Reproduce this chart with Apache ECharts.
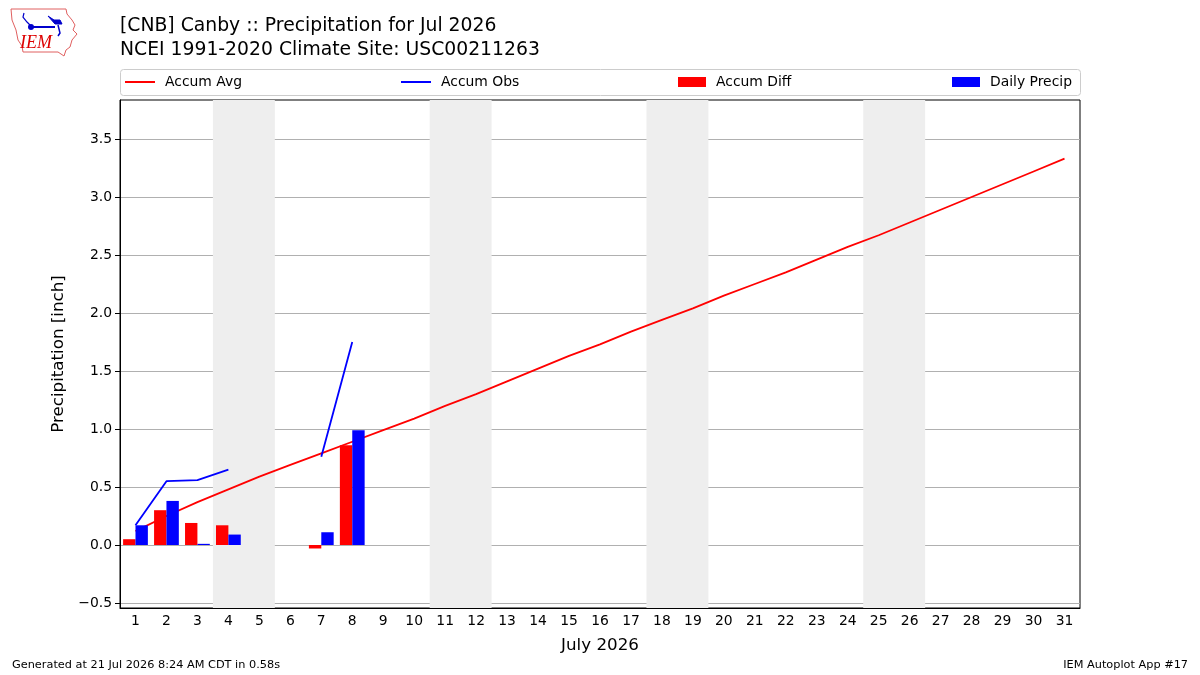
<!DOCTYPE html>
<html>
<head>
<meta charset="utf-8">
<script src="https://cdn.jsdelivr.net/npm/echarts@6/dist/echarts.min.js"></script>
<style>
html,body{margin:0;padding:0;background:#fff;}
#chart{width:1200px;height:675px;}
</style>
</head>
<body>
<div id="chart"></div>
<script>
// ---- data ----
const days = ['1','2','3','4','5','6','7','8','9','10','11','12','13','14','15','16','17','18','19','20','21','22','23','24','25','26','27','28','29','30','31'];
const accumAvg = [0.12,0.25,0.37,0.48,0.59,0.69,0.79,0.89,0.99,1.09,1.20,1.30,1.41,1.52,1.63,1.73,1.84,1.94,2.04,2.15,2.25,2.35,2.46,2.57,2.67,2.78,2.89,3.00,3.11,3.22,3.33];
const accumObs = [0.17,0.55,0.56,0.65,null,null,0.76,1.75];
const accumDiff = [0.05,0.30,0.19,0.17,null,null,-0.03,0.86];
const dailyPrecip = [0.17,0.38,0.01,0.09,null,null,0.11,0.99];
const weekendStarts = [4,11,18,25]; // Sat/Sun pairs shaded
const titleLines = ['[CNB] Canby :: Precipitation for Jul 2026','NCEI 1991-2020 Climate Site: USC00211263'];
const footerLeft = 'Generated at 21 Jul 2026 8:24 AM CDT in 0.58s';
const footerRight = 'IEM Autoplot App #17';

const FONT = 'DejaVu Sans';
const chart = echarts.init(document.getElementById('chart'), null, {renderer:'canvas'});

const shadeAreas = weekendStarts.map(d => [{xAxis: d - 0.5}, {xAxis: d + 1.5}]);
const fmt = v => { const s = (Math.round(v*10)/10).toFixed(1); return s.replace('-', '\u2212'); };

const legendCommon = {
  orient:'horizontal', top: 75, padding: 0,
  textStyle:{fontFamily:FONT, fontSize:13.9, color:'#000', padding:[0,0,0,5]},
  selectedMode:false
};

chart.setOption({
  animation:false,
  backgroundColor:'#fff',
  title:{
    text: titleLines.join('\n'), left:120, top:14, padding:0,
    textStyle:{fontFamily:FONT, fontSize:18.8, fontWeight:'normal', color:'#000', lineHeight:24}
  },
  legend:[
    Object.assign({}, legendCommon, {left:125, data:[{name:'Accum Avg', icon:'rect'}], itemWidth:30, itemHeight:2}),
    Object.assign({}, legendCommon, {left:401, data:[{name:'Accum Obs', icon:'rect'}], itemWidth:30, itemHeight:2}),
    Object.assign({}, legendCommon, {left:678, data:[{name:'Accum Diff', icon:'rect'}], itemWidth:28, itemHeight:10}),
    Object.assign({}, legendCommon, {left:952, data:[{name:'Daily Precip', icon:'rect'}], itemWidth:28, itemHeight:10})
  ],
  grid:{left:120, right:120, top:100, bottom:67, show:true, borderColor:'#000', borderWidth:1, backgroundColor:'transparent', containLabel:false},
  xAxis:[
    {type:'category', data:days, boundaryGap:true,
     name:'July 2026', nameLocation:'middle', nameGap:29,
     nameTextStyle:{fontFamily:FONT, fontSize:16.7, color:'#000'},
     axisLine:{onZero:false, lineStyle:{color:'#000', width:1}},
     axisTick:{alignWithLabel:true, length:5, lineStyle:{color:'#000'}},
     axisLabel:{fontFamily:FONT, fontSize:13.9, color:'#000', margin:6, interval:0},
     splitLine:{show:false}},
    {type:'value', min:0.5, max:31.5, show:false}
  ],
  yAxis:{
    type:'value', min:-0.543, max:3.836, splitNumber:8,
    name:'Precipitation [inch]', nameLocation:'middle', nameGap:44,
    nameTextStyle:{fontFamily:FONT, fontSize:16.7, color:'#000'},
    axisLine:{show:true, onZero:false, lineStyle:{color:'#000'}},
    axisTick:{show:true, length:5, lineStyle:{color:'#000'}},
    axisLabel:{fontFamily:FONT, fontSize:13.9, color:'#000', margin:8, showMinLabel:false, showMaxLabel:false, formatter:fmt},
    splitLine:{show:true, showMinLine:false, showMaxLine:false, lineStyle:{color:'#b0b0b0', width:1}}
  },
  series:[
    {name:'shade', type:'line', xAxisIndex:1, data:[], z:-1, silent:true,
     markArea:{silent:true, itemStyle:{color:'#eeeeee'}, data:shadeAreas}},
    {name:'Accum Avg', type:'line', data:accumAvg, showSymbol:false, symbol:'none',
     lineStyle:{color:'#ff0000', width:1.8}, itemStyle:{color:'#ff0000'}, z:1},
    {name:'Accum Obs', type:'line', data:accumObs.concat(new Array(days.length-accumObs.length).fill(null)),
     showSymbol:false, symbol:'none', connectNulls:false,
     lineStyle:{color:'#0000ff', width:1.8}, itemStyle:{color:'#0000ff'}, z:1},
    {name:'Accum Diff', type:'bar', data:accumDiff, barWidth:'40%', barGap:'0%',
     itemStyle:{color:'#ff0000'}, z:3},
    {name:'Daily Precip', type:'bar', data:dailyPrecip, barWidth:'40%', barGap:'0%',
     itemStyle:{color:'#0000ff'}, z:3}
  ],
  graphic:[
    {type:'rect', left:120, top:69, shape:{width:960, height:26, r:3}, style:{fill:'rgba(255,255,255,0.8)', stroke:'#cccccc', lineWidth:1}, z:-10},
    // IEM logo (approximation)
    {type:'polyline', shape:{points:[[11,9],[66,9],[67,14],[72,20],[75,25],[73,30],[77,34],[72,40],[70,47],[66,50],[64,56],[58,52],[23,52],[22,46],[18,40],[16,30],[12,20],[11,9]]},
     style:{stroke:'#e06060', fill:'none', lineWidth:1}},
    {type:'polyline', shape:{points:[[32,27],[55,27]]}, style:{stroke:'#0000cc', lineWidth:2}},
    {type:'circle', shape:{cx:31, cy:27, r:3}, style:{fill:'#0000cc'}},
    {type:'polyline', shape:{points:[[24,13],[23,17],[27,22],[30,25]]}, style:{stroke:'#0000cc', fill:'none', lineWidth:1.2}},
    {type:'polyline', shape:{points:[[48,16],[54,20],[60,20],[62,24],[55,24],[48,16]]}, style:{stroke:'#0000cc', fill:'#0000cc', lineWidth:1}},
    {type:'polyline', shape:{points:[[58,25],[60,33],[58,36]]}, style:{stroke:'#0000cc', fill:'none', lineWidth:1.5}},
    {type:'text', left:20, top:34, style:{text:'IEM', font:'italic 18px "Liberation Serif", serif', fill:'#dd0000'}},
    // footer
    {type:'text', left:12, top:660, style:{text:footerLeft, font:'11.3px "DejaVu Sans"', fill:'#000'}},
    {type:'text', right:12, top:660, style:{text:footerRight, font:'11.3px "DejaVu Sans"', fill:'#000'}}
  ]
});
</script>
</body>
</html>
